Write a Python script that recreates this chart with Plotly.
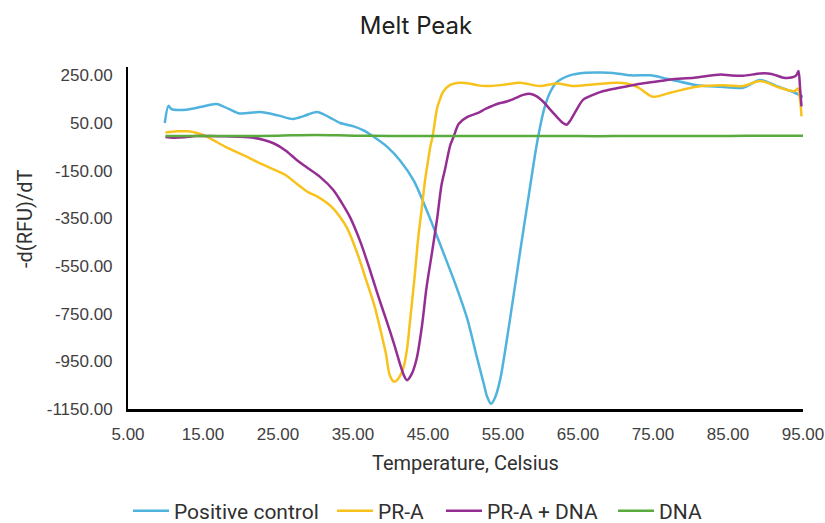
import plotly.graph_objects as go

# ---------------- data ----------------
pc_x = [9.9, 10.4, 10.8, 12.8, 14.8, 16.8, 18.5, 19.9, 22.6, 25.0, 27.0, 28.5, 30.2, 31.8, 33.3,
        35.1, 36.4, 37.8, 39.6, 41.3, 43.1, 45.0, 47.0, 48.7, 50.2, 51.5, 52.4, 52.9, 53.4, 53.9,
        54.6, 55.9, 57.3, 58.5, 59.5, 60.5, 61.3, 62.1, 63.9, 66.0, 68.0, 69.7, 72.0, 74.6, 77.0,
        80.9, 84.0, 87.0, 89.3, 91.5, 93.9, 95.0]
pc_y = [50, 122, 108, 106, 118, 130, 108, 90, 96, 82, 67, 80, 96, 75, 50,
        36, 19, -9, -51, -108, -192, -330, -490, -630, -768, -930, -1040, -1100, -1128, -1105,
        -1030, -780, -486, -240, -40, 110, 180, 219, 250, 261, 262, 260, 250, 250, 235,
        208, 202, 198, 230, 205, 177, 160]

pra_x = [10.0, 11.5, 13.0, 14.2, 15.5, 18.0, 20.8, 23.0, 26.0, 27.5, 29.0, 30.2, 31.5, 32.4, 33.3,
         34.2, 35.5, 36.8, 37.8, 38.6, 39.4, 39.9, 40.5, 41.1, 41.7, 42.2, 42.6, 43.2, 43.7, 44.2,
         44.6, 45.0, 45.3, 45.6, 46.2, 46.6, 47.0, 47.9, 49.3, 50.5, 51.5, 52.8, 55.0, 57.3, 59.9,
         62.2, 64.4, 67.0, 70.2, 71.5, 73.0, 75.0, 77.3, 80.8, 84.4, 87.0, 89.3, 91.9, 93.9, 94.3,
         94.6, 94.8]
pra_y = [10, 15, 15, 8, -7, -50, -91, -125, -168, -205, -240, -258, -285, -310, -345,
         -390, -490, -613, -710, -810, -920, -1008, -1036, -1020, -980, -900, -782, -600, -430, -300,
         -192, -110, -51, -9, 110, 150, 180, 209, 219, 216, 209, 205, 210, 219, 205,
         216, 205, 212, 219, 216, 200, 160, 177, 202, 208, 205, 226, 198, 184, 195,
         150, 78]

prad_x = [10.0, 11.0, 12.5, 14.0, 16.0, 18.0, 20.0, 21.7, 23.0, 24.4, 26.0, 27.5, 29.0, 30.6, 32.4,
          33.5, 34.6, 36.0, 37.3, 38.4, 39.5, 40.5, 41.3, 41.8, 42.2, 42.8, 43.5, 44.2, 44.8, 45.5,
          46.2, 46.8, 47.3, 47.7, 48.0, 48.4, 49.1, 50.2, 51.5, 52.8, 54.4, 55.5, 56.5, 57.7, 58.7,
          59.5, 60.5, 61.3, 62.2, 63.0, 63.5, 63.9, 64.7, 65.7, 67.0, 68.4, 70.5, 72.8, 75.0, 77.3,
          80.5, 84.0, 85.3, 87.0, 89.3, 90.8, 92.4, 93.6, 94.1, 94.4, 94.6, 94.8]
prad_y = [-9, -12, -10, -5, -5, -6, -8, -12, -20, -35, -65, -105, -140, -176, -232,
          -285, -345, -450, -571, -680, -782, -880, -965, -1010, -1029, -1005, -937, -800, -641, -500,
          -355, -210, -140, -79, -40, -9, 47, 75, 90, 111, 132, 140, 152, 168, 172,
          162, 135, 106, 75, 50, 43, 57, 100, 148, 168, 184, 198, 212, 222, 233,
          240, 254, 250, 248, 258, 256, 240, 242, 250, 268, 200, 120]

dna_x = [10, 15, 20, 25, 30, 35, 40, 45, 50, 55, 60, 65, 70, 75, 80, 85, 90, 95]
dna_y = [-5, -4, -5, -3, 0, -3, -4, -5, -4, -5, -4, -5, -5, -4, -5, -4, -3, -3]

series_names = ["Positive control", "PR-A", "PR-A + DNA", "DNA"]
series_colors = ["#4FB3DE", "#F8C21C", "#952E93", "#5BAA3E"]

x_ticks = [5, 15, 25, 35, 45, 55, 65, 75, 85, 95]
y_ticks = [250, 50, -150, -350, -550, -750, -950, -1150]

# ---------------- figure ----------------
legend_ids = ["legend", "legend2", "legend3", "legend4"]
legend_left_px = [128, 332, 441, 613]

fig = go.Figure()
for name, xs, ys, col, lg in zip(series_names,
                                 [pc_x, pra_x, prad_x, dna_x],
                                 [pc_y, pra_y, prad_y, dna_y],
                                 series_colors, legend_ids):
    fig.add_trace(go.Scatter(x=xs, y=ys, mode="lines", name=name, legend=lg,
                             line=dict(color=col, width=2.5, shape="spline", smoothing=0.8)))

tick_font = dict(family="Liberation Sans, Arial, sans-serif", size=17, color="#404040")
label_font = dict(family="Roboto, sans-serif", size=20, color="#303030")
legend_font = dict(family="Roboto, sans-serif", size=21, color="#303030")

legend_layouts = {}
for lg, lx in zip(legend_ids, legend_left_px):
    legend_layouts[lg] = dict(orientation="h", x=lx / 825, xanchor="left", xref="container",
                              y=1 - 511 / 523, yanchor="middle", yref="container",
                              font=legend_font, itemwidth=36, bgcolor="rgba(0,0,0,0)")

fig.update_layout(
    width=825, height=523,
    margin=dict(l=128, r=22, t=67, b=114, autoexpand=False),
    paper_bgcolor="white", plot_bgcolor="white",
    title=dict(text="Melt Peak", x=416 / 825, xanchor="center", xref="container",
               y=1 - 26 / 523, yanchor="middle", yref="container",
               font=dict(family="Inter, Roboto, sans-serif", size=24, color="#202020")),
    showlegend=True,
    annotations=[
        dict(text="-d(RFU)/dT", xref="paper", yref="paper", x=(25 - 128) / 675,
             y=(409 - 219) / 342, xanchor="center", yanchor="middle", textangle=-90,
             showarrow=False, font=label_font),
        dict(text="Temperature, Celsius", xref="paper", yref="paper", x=0.5,
             y=(409 - 463) / 342, xanchor="center", yanchor="middle",
             showarrow=False, font=label_font),
    ],
    **legend_layouts,
)
fig.update_xaxes(range=[5, 95], tickvals=x_ticks, ticktext=[f"{v:.2f}" for v in x_ticks],
                 showgrid=False, zeroline=False, showline=True, linecolor="black", linewidth=2.5,
                 ticks="", ticklabelstandoff=8, tickfont=tick_font, automargin=False)
fig.update_yaxes(range=[-1150, 285], tickvals=y_ticks, ticktext=[f"{v:.2f}" for v in y_ticks],
                 showgrid=False, zeroline=False, showline=True, linecolor="black", linewidth=2,
                 ticks="", ticklabelstandoff=10, tickfont=tick_font, automargin=False)

fig.write_html("out.html")
